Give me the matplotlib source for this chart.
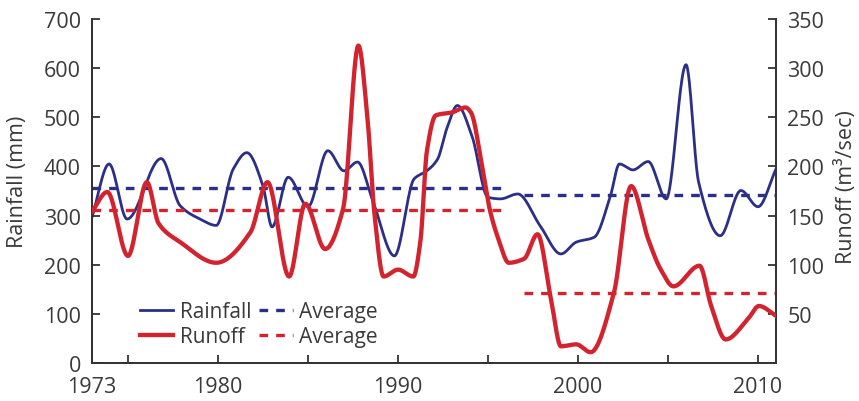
import numpy as np
import matplotlib
matplotlib.use("Agg")
import matplotlib.pyplot as plt
from matplotlib.lines import Line2D

plt.rcParams['font.family'] = ['Open Sans', 'DejaVu Sans']

# Annual rainfall (mm), sampled along the record
rain_years = [1973.0, 1973.95, 1974.95, 1976.84, 1977.9, 1979.0, 1979.9, 1980.85,
              1981.6, 1982.5, 1983.0, 1983.9, 1985.0, 1986.1, 1987.0, 1987.75,
              1988.6, 1989.8, 1990.9, 1991.6, 1992.2, 1992.7, 1993.3, 1994.1,
              1995.0, 1995.7, 1996.65, 1997.9, 1999.05, 1999.9, 2000.9, 2001.8,
              2002.3, 2003.05, 2003.9, 2004.9, 2006.0, 2006.7, 2007.9, 2009.05,
              2010.0, 2011.0]
rain_values = [297, 405, 293, 416, 320, 293, 280, 395,
               428, 360, 277, 378, 318, 432, 391, 409,
               330, 218, 375, 391, 415, 476, 524, 463,
               337, 334, 344, 279, 222, 246, 256, 340,
               405, 393, 410, 334, 607, 368, 259, 351,
               318, 395]

# River runoff (m3/sec)
runoff_years = [1973.0, 1973.85, 1975.0, 1976.05, 1976.7, 1977.9, 1979.9, 1981.8,
                1982.75, 1983.95, 1984.85, 1985.95, 1986.95, 1987.8, 1988.3, 1988.7,
                1989.2, 1990.0, 1990.85, 1991.25, 1991.6, 1992.1, 1993.0, 1993.75,
                1994.05, 1994.7, 1995.1, 1995.6, 1996.15, 1997.0, 1997.75, 1998.5,
                1999.05, 1999.9, 2000.7, 2002.0, 2002.95, 2003.9, 2004.6, 2005.3,
                2006.75, 2007.4, 2008.2, 2009.45, 2010.05, 2011.0]
runoff_values = [154, 174, 109, 184, 142, 123, 102, 133,
                 184, 88, 162, 116, 157, 323, 250, 150,
                 88, 95, 88, 125, 215, 252, 255, 260,
                 255, 197, 156, 125, 102, 106, 131, 65,
                 17, 19, 11, 72, 180, 126, 95, 78,
                 99, 58, 24, 45, 58, 48]

# Period averages: (start year, end year, value)
rain_avg_periods = [(1973, 1996, 356), (1997, 2011, 341)]
runoff_avg_periods = [(1973, 1996, 156), (1997, 2011, 71)]

x_ticks = [1973, 1980, 1990, 2000, 2010]
x_minor = [1975, 1985, 1995, 2005]
rain_ticks = [0, 100, 200, 300, 400, 500, 600, 700]
runoff_ticks = [50, 100, 150, 200, 250, 300, 350]

BLUE = '#2c2f86'
RED = '#d2232e'
INK = '#3a3a3a'


def smooth(x, y, n=1500):
    """Shape-preserving cubic (PCHIP) curve through the samples."""
    x = np.asarray(x, float)
    y = np.asarray(y, float)
    h = np.diff(x)
    d = np.diff(y) / h
    m = np.zeros_like(y)
    for k in range(1, len(x) - 1):
        if d[k - 1] * d[k] > 0:
            w1 = 2 * h[k] + h[k - 1]
            w2 = h[k] + 2 * h[k - 1]
            m[k] = (w1 + w2) / (w1 / d[k - 1] + w2 / d[k])
    m[0] = d[0]
    m[-1] = d[-1]
    xs = np.linspace(x[0], x[-1], n)
    idx = np.clip(np.searchsorted(x, xs) - 1, 0, len(x) - 2)
    t = (xs - x[idx]) / h[idx]
    h00 = 2 * t**3 - 3 * t**2 + 1
    h10 = t**3 - 2 * t**2 + t
    h01 = -2 * t**3 + 3 * t**2
    h11 = t**3 - t**2
    ys = (h00 * y[idx] + h10 * h[idx] * m[idx]
          + h01 * y[idx + 1] + h11 * h[idx] * m[idx + 1])
    return xs, ys


fig = plt.figure(figsize=(8.59, 4.02), dpi=100)
ax = fig.add_axes([0.1071, 0.0945, 0.7963, 0.8557])
ax2 = ax.twinx()

dash = (0, (2.6, 2.4))

rx, ry = smooth(rain_years, rain_values)
ax.plot(rx, ry, color=BLUE, lw=2.0, zorder=4)
for a, b, v in rain_avg_periods:
    ax.plot([a, b], [v, v], color=BLUE, lw=2.4, linestyle=dash, zorder=3)

ox, oy = smooth(runoff_years, runoff_values)
ax2.plot(ox, oy, color=RED, lw=3.1, zorder=3)
for a, b, v in runoff_avg_periods:
    ax2.plot([a, b], [v, v], color=RED, lw=2.4, linestyle=dash, zorder=2)

ax.set_xlim(1973, 2011)
ax.set_ylim(0, 700)
ax2.set_ylim(0, 350)

ax.set_xticks(x_ticks)
ax.set_xticklabels([str(t) for t in x_ticks])
ax.set_xticks(x_minor, minor=True)
ax.set_yticks(rain_ticks)
ax2.set_yticks(runoff_ticks)

for a in (ax, ax2):
    a.spines['top'].set_visible(False)
    for s in ('left', 'right', 'bottom'):
        a.spines[s].set_color('#333333')
        a.spines[s].set_linewidth(1.3)

FS = 15.5
ax.tick_params(axis='both', which='both', direction='in', length=6,
               width=1.3, color='#333333', labelsize=FS, labelcolor=INK)
ax.tick_params(axis='x', which='major', pad=9)
ax.tick_params(axis='y', pad=8)
ax2.tick_params(axis='y', direction='in', length=6, width=1.3,
                color='#333333', labelsize=FS, labelcolor=INK, pad=8)
# the 1973 label sits on the axis edge without a tick mark
ax.xaxis.get_major_ticks()[0].tick1line.set_visible(False)

ax.set_ylabel('Rainfall (mm)', fontsize=15.5, color=INK)
ax2.set_ylabel('Runoff (m³/sec)', fontsize=15.5, color=INK)
ax.yaxis.set_label_coords(-0.094, 0.53)
ax2.yaxis.set_label_coords(1.086, 0.515)

handles = [
    Line2D([], [], color=BLUE, lw=2.0),
    Line2D([], [], color=RED, lw=3.1),
    Line2D([], [], color=BLUE, lw=2.4, linestyle=dash),
    Line2D([], [], color=RED, lw=2.4, linestyle=dash),
]
labels = ['Rainfall', 'Runoff', 'Average', 'Average']
leg = ax.legend(handles, labels, ncol=2, frameon=False, fontsize=15,
                loc='lower left', bbox_to_anchor=(0.058, 0.022),
                handlelength=1.6, handletextpad=0.3, columnspacing=0.4,
                labelspacing=0.2, borderaxespad=0)
for t in leg.get_texts():
    t.set_color(INK)

fig.savefig('out.png', dpi=100)
